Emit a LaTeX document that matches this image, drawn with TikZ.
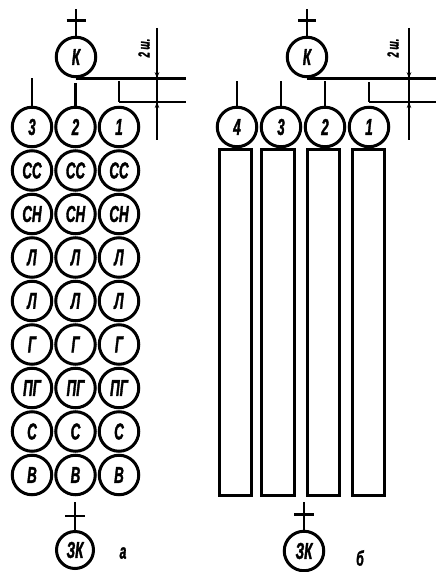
\documentclass[tikz,border=0pt]{standalone}
\usepackage{fontspec}
\setmainfont{Liberation Sans}[FakeStretch=0.58, FakeBold=1.5]
\usetikzlibrary{positioning, arrows.meta}

\tikzset{
	ring/.style={draw, circle, line width=3pt, minimum size=39.5pt, inner sep=0pt, font=\fontsize{23}{23}\selectfont\bfseries\itshape},
	bar/.style={line width=2.8pt},
	slot/.style={draw, line width=3pt, minimum width=32pt, minimum height=345pt, inner sep=0pt},
	dim/.style={line width=1.5pt},
	dimtip/.style={line width=1.5pt, -{Stealth[length=6pt, width=4.5pt]}},
	tag/.style={font=\fontsize{21}{21}\selectfont\bfseries\itshape},
}

\begin{document}
\begin{tikzpicture}[x=1pt, y=-1pt]
	\useasboundingbox (0,0) rectangle (436,572);
	% scheme a
	\node [ring] (Ka) at (76,57) {К};
	\foreach \n/\x in {3/32, 2/75.5, 1/119} {
		\node [ring] (a\n) at (\x,127) {\n};
	}
	\foreach \t [count=\r] in {СС,СН,Л,Л,Г,ПГ,С,В} {
		\foreach \c/\x in {3/32, 2/75.5, 1/119} {
			\node [ring] (a\c-\r) at (\x,{127+43.5*\r}) {\t};
		}
	}
	\node [ring, minimum size=37pt] (ZKa) at (75,550) {ЗК};
	\node [tag] (a-label) at (123,553) {а};

	\draw [bar] (Ka.north) -- ++(0,-27) (Ka.north) ++(-9.5,-15) -- ++(19,0);
	\draw [bar] (ZKa.north) -- ++(0,-28) (ZKa.north) ++(-10,-14) -- ++(20,0);
	\draw [bar] (a3.north) -- ++(0,-28);
	\draw [bar] (a2.north) -- ++(0,-23);
	\coordinate (a-edge) at (186,102);
	\coordinate (a1-joint) at (119,102);
	\draw [bar] (Ka.south) -- (Ka.south -| a-edge);
	\draw [bar] (a1-joint) -- ++(0,-21);
	\draw [bar] (a1-joint) -- (a-edge);

	\coordinate (a-dim-top) at (157,28);
	\coordinate (a-dim-bot) at (157,140);
	\draw [dim] (a-dim-top) -- (a-dim-bot);
	\draw [dimtip] (157,60) -- (Ka.south -| a-dim-top);
	\draw [dimtip] (157,118) -- (a-edge -| a-dim-top);
	\node [rotate=90, font=\fontsize{16}{16}\selectfont\bfseries\itshape] (a-step) at (144,48) {2 ш.};

	% scheme b
	\node [ring] (Kb) at (307,57) {К};
	\foreach \n/\x in {4/237, 3/281, 2/325, 1/369} {
		\node [ring] (b\n) at (\x,127) {\n};
	}
	\node [slot] (s4) at (235,322.5) {};
	\node [slot, minimum width=33pt] (s3) at (277.5,322.5) {};
	\node [slot] (s2) at (323,322.5) {};
	\node [slot] (s1) at (368,322.5) {};
	\node [ring] (ZKb) at (304,551) {ЗК};
	\node [tag] (b-label) at (360,558) {б};

	\draw [bar] (Kb.north) -- ++(0,-27) (Kb.north) ++(-9,-15) -- ++(18,0);
	\draw [bar] (ZKb.north) -- ++(0,-28) (ZKb.north) ++(-10,-15) -- ++(20,0);
	\draw [bar] (b4.north) -- ++(0,-25);
	\draw [bar] (b3.north) -- ++(0,-25);
	\draw [bar] (b2.north) -- ++(0,-25);
	\coordinate (b-edge) at (436,102);
	\coordinate (b1-joint) at (369,102);
	\draw [bar] (Kb.south) -- (Kb.south -| b-edge);
	\draw [bar] (b1-joint) -- ++(0,-20);
	\draw [bar] (b1-joint) -- (b-edge);

	\coordinate (b-dim-top) at (409,28);
	\coordinate (b-dim-bot) at (409,140);
	\draw [dim] (b-dim-top) -- (b-dim-bot);
	\draw [dimtip] (409,60) -- (Kb.south -| b-dim-top);
	\draw [dimtip] (409,118) -- (b-edge -| b-dim-top);
	\node [rotate=90, font=\fontsize{16}{16}\selectfont\bfseries\itshape] (b-step) at (393,48) {2 ш.};
\end{tikzpicture}
\end{document}
